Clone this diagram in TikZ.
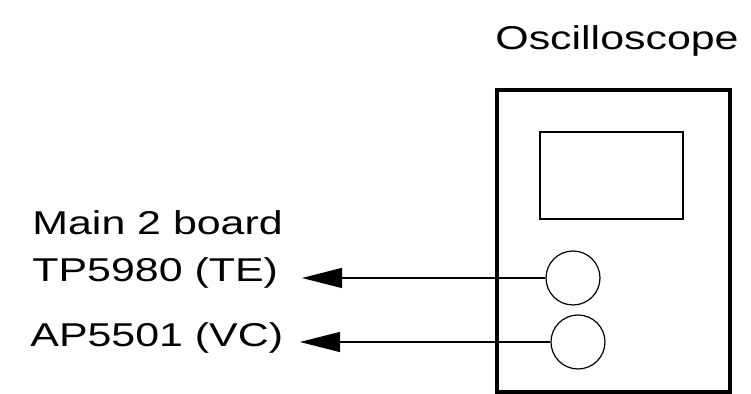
\documentclass[tikz,border=0pt]{standalone}
\usepackage{fontspec}
\setmainfont{Liberation Sans}[FakeStretch=1.3]
\usetikzlibrary{arrows.meta,positioning}
\tikzset{
  font=\fontsize{16.5}{19}\selectfont,
  probe/.style={-{Triangle[length=20pt,width=10pt]},draw=black,line width=0.6pt},
  scope/.style={rectangle,draw=black,line width=1.6pt,minimum width=116.5pt,minimum height=151pt,inner sep=0pt},
  screen/.style={rectangle,draw=black,line width=0.6pt,minimum width=71.5pt,minimum height=43.5pt,inner sep=0pt},
  knob/.style={circle,draw=black,line width=0.6pt,minimum size=27pt,inner sep=0pt},
  label/.style={anchor=base west,inner sep=0pt},
}
\begin{document}
\begin{tikzpicture}[x=0.5pt,y=0.5pt]
\useasboundingbox (0,0) rectangle (751,394);

\node[anchor=base,inner sep=0pt] (title) at (617,344) {Oscilloscope};

\node[scope] (scope) at (613.5,153) {};
\node[screen] (screen) at (611.5,218.5) {};
\node[knob] (knobTE) at (573,116) {};
\node[knob] (knobVC) at (578,52) {};

\node[label] (board) at (32,159) {Main 2 board};
\node[label] (te) at (32,112) {TP5980 (TE)};
\node[label] (vc) at (30,47) {AP5501 (VC)};

\coordinate (tipTE) at (302,116);
\coordinate (tipVC) at (300,52);

\draw[probe] (knobTE.west) -- (tipTE);
\draw[probe] (knobVC.west) -- (tipVC);

\end{tikzpicture}
\end{document}
